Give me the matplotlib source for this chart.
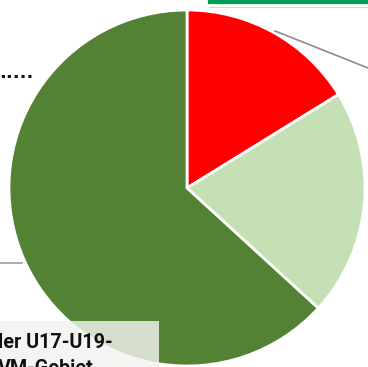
import matplotlib.pyplot as plt
from matplotlib.patches import Rectangle

# === Data ===
segments = ['Rot', 'Hellgrün', 'Dunkelgrün']
shares = [16.2, 20.6, 63.2]
slice_colors = ['#ff0000', '#c5e0b4', '#548235']
box_lines = ['ler U17-U19-', 'VM-Gebiet']

W, H = 368, 367

fig = plt.figure(figsize=(W / 100, H / 100), dpi=100)
ax = fig.add_axes([0, 0, 1, 1])

# === Pie ===
ax.pie(shares, colors=slice_colors, startangle=90, counterclock=False,
       center=(187, H - 188), radius=178,
       wedgeprops=dict(edgecolor='white', linewidth=2))

# === Leader lines and decorations ===
ax.plot([275, 368], [H - 31, H - 68], color='#8c8c8c', lw=1.2)
ax.plot([0, 22], [H - 263, H - 263], color='#a0a0a0', lw=1.2)
ax.text(-1, H - 73, '.....', fontsize=13, fontweight='bold', va='center', ha='left',
        color='#111111', family='DejaVu Sans')

# green header box cut off at the top
ax.add_patch(Rectangle((209, H - 8), 170, 12, facecolor='#d6d6d6', edgecolor='none'))
ax.add_patch(Rectangle((206, H - 5), 170, 10, facecolor='#009d5a', edgecolor='white', lw=2))

# bottom-left label box
ax.add_patch(Rectangle((-5, -5), 164, H - 321 + 5, facecolor='#f2f2f0', alpha=0.82,
                       edgecolor='none'))
ax.text(-2, H - 343, box_lines[0], fontsize=14.2, fontweight='bold', family='Roboto',
        va='center', ha='left', color='#111111')
ax.text(-2, H - 369, box_lines[1], fontsize=14.2, fontweight='bold', family='Roboto',
        va='center', ha='left', color='#111111')

ax.set_xlim(0, W)
ax.set_ylim(0, H)
ax.set_aspect('auto')
ax.axis('off')

fig.savefig('out.png', dpi=100)
